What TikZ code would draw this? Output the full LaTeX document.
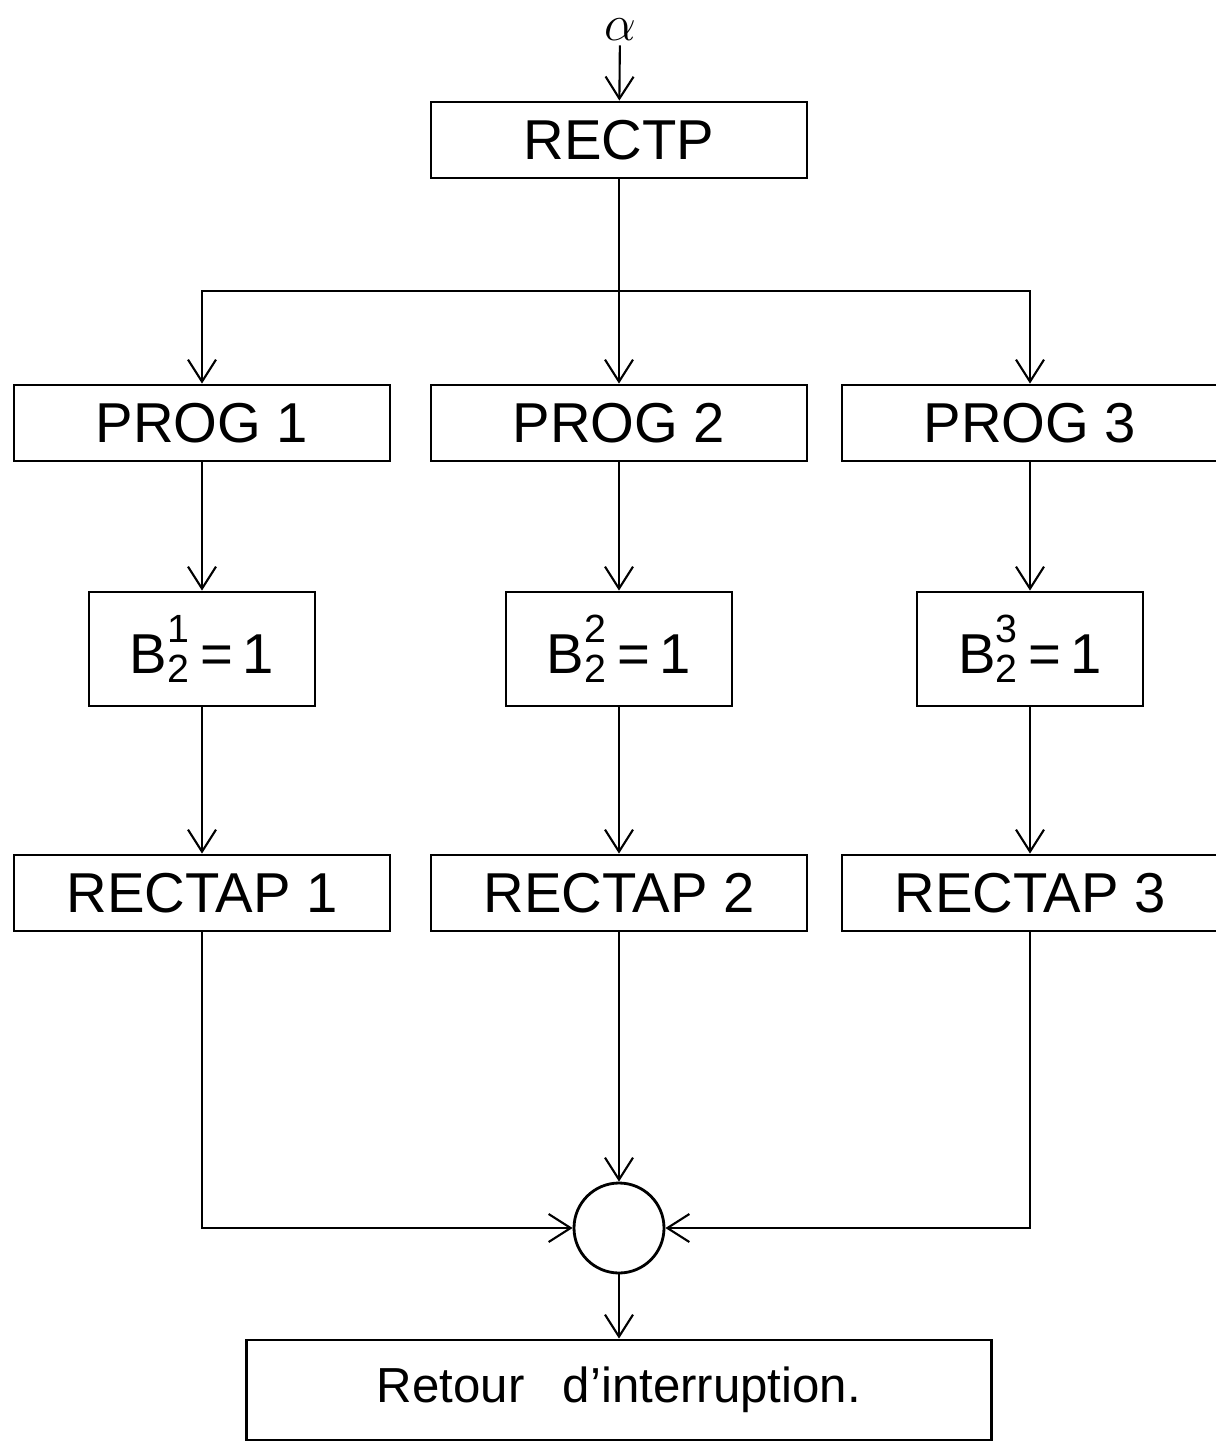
\documentclass[tikz,border=0pt]{standalone}
\usepackage{fontspec}
\setmainfont{Liberation Sans}
\usetikzlibrary{positioning, arrows.meta, calc}

\newcommand{\bflag}[1]{B\rlap{\raisebox{0.15em}{\textsuperscript{#1}}}\textsubscript{2}\,=\,1}

\begin{document}
\begin{tikzpicture}[->,>={Straight Barb[length=2.2mm,width=2.8mm]},semithick,node distance=2.8cm,
    box/.style={draw,thick,minimum width=3.76cm,minimum height=0.76cm,font=\fontsize{16}{19}\selectfont},
    flag/.style={draw,thick,minimum width=2.26cm,minimum height=1.14cm,font=\fontsize{16}{19}\selectfont}]
    \useasboundingbox (0,0) rectangle (12.16,-14.49);

    \node[inner sep=1pt] (alpha) at (6.2,-0.3) {\Large$\alpha$};
    \node[box] (rectp) at (6.19,-1.4) {RECTP};
    \node[box] (prog2) [below of=rectp, node distance=2.83cm] {PROG 2};
    \node[box] (prog1) [left of=prog2, node distance=4.17cm] {PROG 1};
    \node[box] (prog3) [right of=prog2, node distance=4.11cm] {PROG 3};
    \node[flag] (b1) [below of=prog1, node distance=2.26cm] {\bflag{1}};
    \node[flag] (b2) [below of=prog2, node distance=2.26cm] {\bflag{2}};
    \node[flag] (b3) [below of=prog3, node distance=2.26cm] {\bflag{3}};
    \node[box] (rectap1) [below of=b1, node distance=2.44cm] {RECTAP 1};
    \node[box] (rectap2) [below of=b2, node distance=2.44cm] {RECTAP 2};
    \node[box] (rectap3) [below of=b3, node distance=2.44cm] {RECTAP 3};
    \node[draw,thick,circle,minimum size=0.9cm,inner sep=0pt] (join) [below of=rectap2, node distance=3.35cm] {};
    \node[draw,thick,minimum width=7.45cm,minimum height=1cm,font=\fontsize{14}{17}\selectfont] (retour) [below of=join, node distance=1.62cm] {Retour\enspace\ d'interruption.};

    \coordinate (split) at ($(rectp.south)+(0,-1.12)$);

    \path (alpha) edge (rectp)
          (rectp) edge (prog2)
          (prog1) edge (b1)
          (prog2) edge (b2)
          (prog3) edge (b3)
          (b1) edge (rectap1)
          (b2) edge (rectap2)
          (b3) edge (rectap3)
          (rectap2) edge (join)
          (join) edge (retour);
    \draw (split) -| (prog1.north);
    \draw (split) -| (prog3.north);
    \draw (rectap1.south) |- (join.west);
    \draw (rectap3.south) |- (join.east);
\end{tikzpicture}
\end{document}
